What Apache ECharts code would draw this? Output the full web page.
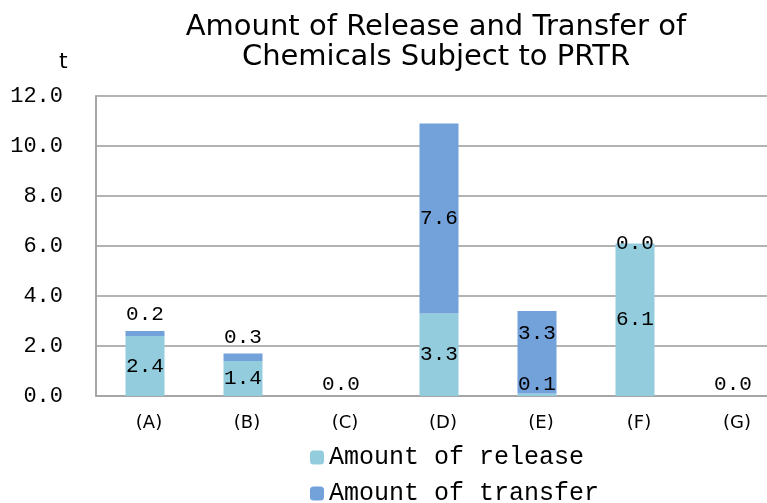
<!DOCTYPE html>
<html>
<head>
<meta charset="utf-8">
<script src="https://cdn.jsdelivr.net/npm/echarts@6/dist/echarts.min.js"></script>
<style>
  html, body { margin: 0; padding: 0; background: #fff; }
  #chart { width: 767px; height: 503px; }
</style>
</head>
<body>
<div id="chart"></div>
<script>
  // values in t
  var categories = ["(A)", "(B)", "(C)", "(D)", "(E)", "(F)", "(G)"];
  var releaseValues = [2.4, 1.4, 0.0, 3.3, 0.1, 6.1, 0.0];
  var transferValues = [0.2, 0.3, 0.0, 7.6, 3.3, 0.0, 0.0];
  var seriesNames = ["Amount of release", "Amount of transfer"];

  var monoFont = "Liberation Mono";
  var labelStyle = { color: "#000", fontFamily: monoFont, fontSize: 21 };

  function fmt(v) { return v.toFixed(1); }

  var releaseData = releaseValues.map(function (v) {
    var item = { value: v, label: {} };
    if (v < 0.5) {
      item.label = { position: "insideBottom", distance: 1 };
    }
    return item;
  });

  var transferData = transferValues.map(function (v, i) {
    var r = releaseValues[i];
    var item = { value: v, label: {} };
    if (v === 0 && r === 0) {
      item.label = { show: false };
    } else if (v > 0 && v < 1) {
      item.label = { position: "top", distance: 6 };
    } else if (r > 0 && r < 0.5) {
      item.label = { offset: [0, -19] };
    }
    return item;
  });

  function legendBox(name, top) {
    return {
      left: 305,
      top: top,
      itemWidth: 14,
      itemHeight: 14,
      textStyle: {
        fontFamily: monoFont,
        fontSize: 25,
        color: "#000"
      },
      data: [name]
    };
  }

  var chart = echarts.init(document.getElementById("chart"));
  chart.setOption({
    animation: false,
    title: [
      {
        text: "Amount of Release and Transfer of\nChemicals Subject to PRTR",
        left: 431,
        top: 7,
        textAlign: "center",
        textStyle: {
          fontFamily: "DejaVu Sans",
          fontWeight: "normal",
          fontSize: 29,
          lineHeight: 30,
          color: "#000"
        }
      },
      {
        text: "t",
        left: 54,
        top: 46,
        textStyle: {
          fontFamily: "DejaVu Sans",
          fontWeight: "normal",
          fontSize: 22,
          color: "#000"
        }
      }
    ],
    legend: [legendBox(seriesNames[0], 440), legendBox(seriesNames[1], 476)],
    grid: { left: 96, top: 96, width: 686, height: 300, outerBoundsMode: "none" },
    xAxis: {
      type: "category",
      data: categories,
      axisLine: { lineStyle: { color: "#a6a6a6", width: 2 } },
      axisTick: { show: false },
      axisLabel: {
        color: "#000",
        fontFamily: "DejaVu Sans",
        fontSize: 18,
        margin: 18,
        padding: [0, 0, 0, 8]
      }
    },
    yAxis: {
      type: "value",
      min: 0,
      max: 12,
      interval: 2,
      axisLine: { show: true, lineStyle: { color: "#a6a6a6", width: 2 } },
      axisTick: { show: false },
      splitLine: { lineStyle: { color: "#b3b3b3", width: 2 } },
      axisLabel: {
        color: "#000",
        fontFamily: monoFont,
        fontSize: 22,
        margin: 33,
        formatter: function (v) { return fmt(v); }
      }
    },
    series: [
      {
        name: seriesNames[0],
        type: "bar",
        stack: "total",
        barWidth: 39,
        itemStyle: { color: "#93cddd" },
        label: {
          show: true,
          position: "inside",
          formatter: function (p) { return fmt(p.value); },
          color: labelStyle.color,
          fontFamily: labelStyle.fontFamily,
          fontSize: labelStyle.fontSize
        },
        data: releaseData
      },
      {
        name: seriesNames[1],
        type: "bar",
        stack: "total",
        barWidth: 39,
        itemStyle: { color: "#73a2db" },
        label: {
          show: true,
          position: "inside",
          formatter: function (p) { return fmt(p.value); },
          color: labelStyle.color,
          fontFamily: labelStyle.fontFamily,
          fontSize: labelStyle.fontSize
        },
        data: transferData
      }
    ]
  });
</script>
</body>
</html>
